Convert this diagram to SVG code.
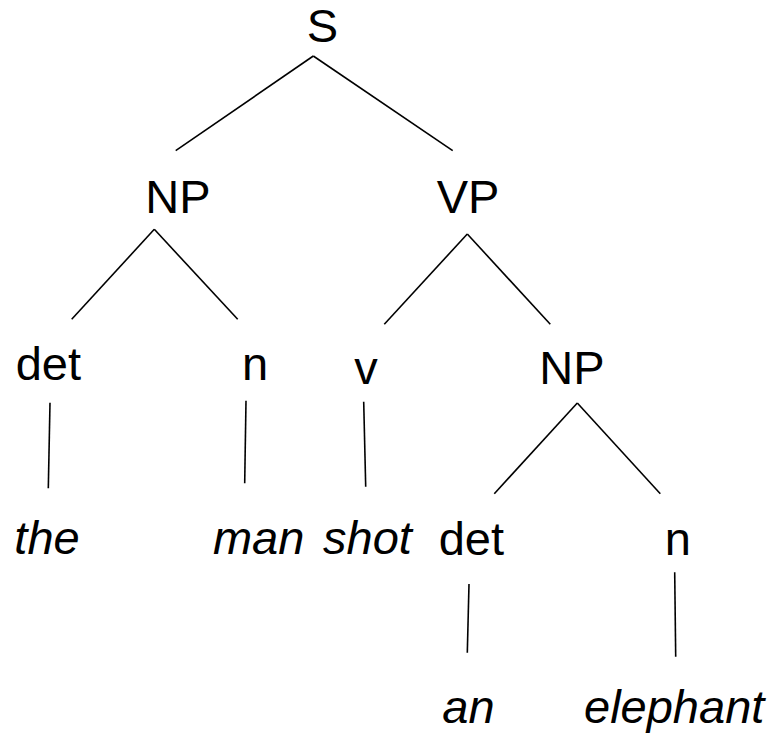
<svg xmlns="http://www.w3.org/2000/svg" width="771" height="734" viewBox="0 0 771 734">
<style>
text{font-family:"Liberation Sans",Arial,sans-serif;font-size:47px;fill:#000;text-anchor:middle}
.w{font-style:italic}
line{stroke:#000;stroke-width:1.6}
</style>
<rect width="771" height="734" fill="#fff"/>
<g id="connectors">
<line x1="313.3" y1="56" x2="175.7" y2="150.7"/>
<line x1="313.3" y1="56" x2="452.7" y2="150.7"/>
<line x1="154.3" y1="229.3" x2="71.7" y2="319.3"/>
<line x1="154.3" y1="229.3" x2="237.7" y2="319.3"/>
<line x1="467.3" y1="234" x2="384.3" y2="324.3"/>
<line x1="467.3" y1="234" x2="550.3" y2="324.3"/>
<line x1="577.3" y1="403" x2="494.3" y2="493.7"/>
<line x1="577.3" y1="403" x2="660.3" y2="493.7"/>
<line x1="50" y1="402.7" x2="48.3" y2="488.3"/>
<line x1="246" y1="400.7" x2="244.7" y2="483.3"/>
<line x1="363.7" y1="401.7" x2="365.7" y2="486.7"/>
<line x1="469" y1="584" x2="467.3" y2="652.7"/>
<line x1="674.7" y1="572.3" x2="675.7" y2="656.7"/>
</g>
<g id="S"><text x="322.5" y="42">S</text></g>
<g id="NP1"><text x="178" y="213">NP</text></g>
<g id="VP"><text x="468" y="213">VP</text></g>
<g id="det1"><text x="48.3" y="380">det</text></g>
<g id="n1"><text x="255" y="380">n</text></g>
<g id="v"><text x="366" y="384">v</text></g>
<g id="NP2"><text x="572" y="384">NP</text></g>
<g id="det2"><text x="471.3" y="555">det</text></g>
<g id="n2"><text x="677.7" y="555">n</text></g>
<g id="the"><text class="w" x="47" y="554">the</text></g>
<g id="man"><text class="w" x="258.7" y="554">man</text></g>
<g id="shot"><text class="w" x="367.5" y="554">shot</text></g>
<g id="an"><text class="w" x="468.5" y="723">an</text></g>
<g id="elephant"><text class="w" x="584" y="723" style="text-anchor:start">elephant</text></g>
</svg>
